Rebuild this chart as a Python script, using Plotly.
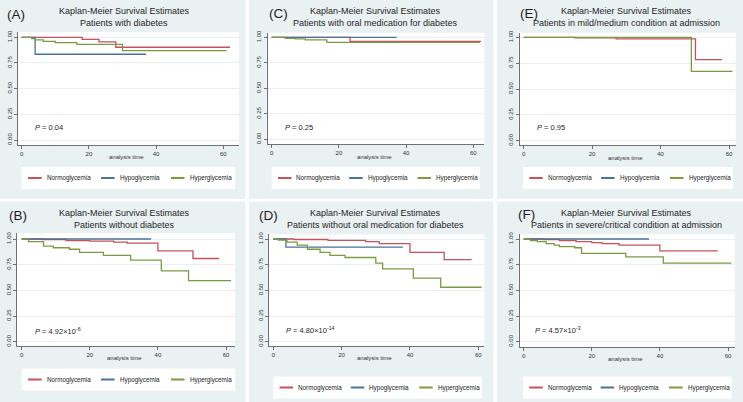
import plotly.graph_objects as go

W, H = 743, 402

# ---------------- data ----------------
groups = ["Normoglycemia", "Hypoglycemia", "Hyperglycemia"]
group_colors = ["#c4515c", "#4b7398", "#7b9b40"]

panel_labels = ["(A)", "(B)", "(C)", "(D)", "(E)", "(F)"]
title_main = "Kaplan-Meier Survival Estimates"
subtitles = [
    "Patients with diabetes",
    "Patients without diabetes",
    "Patients with oral medication for diabetes",
    "Patients without oral medication for diabetes",
    "Patients in mild/medium condition at admission",
    "Patients in severe/critical condition at admission",
]
p_texts = [
    "<i>P</i> = 0.04",
    "<i>P</i> = 4.92×10<sup>-6</sup>",
    "<i>P</i> = 0.25",
    "<i>P</i> = 4.80×10<sup>-14</sup>",
    "<i>P</i> = 0.95",
    "<i>P</i> = 4.57×10<sup>-3</sup>",
]
p_pos_t = [3.4, 3.4, 3.4, 3.0, 3.2, 2.8]
p_pos_s = [0.12, 0.10, 0.115, 0.115, 0.125, 0.115]
x_title = "analysis time"
x_tick_vals = [0, 20, 40, 60]
y_tick_vals = [0, 0.25, 0.5, 0.75, 1.0]
y_tick_text = ["0.00", "0.25", "0.50", "0.75", "1.00"]

# (A) with diabetes
A_normo_t = [0, 18, 23, 28, 62]
A_normo_s = [1.0, 0.98, 0.955, 0.903, 0.903]
A_hypo_t = [0, 4, 37]
A_hypo_s = [1.0, 0.835, 0.835]
A_hyper_t = [0, 3, 4, 6.4, 10, 16.4, 30, 61]
A_hyper_s = [1.0, 0.987, 0.974, 0.961, 0.948, 0.932, 0.87, 0.87]

# (B) without diabetes
B_normo_t = [0, 6, 13, 20, 27, 31, 40, 50.3, 58]
B_normo_s = [1.0, 0.995, 0.985, 0.98, 0.97, 0.96, 0.885, 0.81, 0.81]
B_hypo_t = [0, 38]
B_hypo_s = [1.0, 1.0]
B_hyper_t = [0, 2, 6.4, 9.3, 14, 17, 24, 32, 41, 49, 61.5]
B_hyper_s = [1.0, 0.975, 0.93, 0.915, 0.90, 0.87, 0.84, 0.795, 0.69, 0.595, 0.595]

# (C) with oral medication
C_normo_t = [0, 23.3, 62.3]
C_normo_s = [1.0, 0.96, 0.96]
C_hypo_t = [0, 37.2]
C_hypo_s = [1.0, 1.0]
C_hyper_t = [0, 4, 7, 10, 16.4, 62]
C_hyper_s = [1.0, 0.99, 0.985, 0.975, 0.95, 0.95]

# (D) without oral medication
D_normo_t = [0, 6, 16, 27, 31, 40, 50, 58]
D_normo_s = [1.0, 0.995, 0.987, 0.974, 0.955, 0.87, 0.80, 0.80]
D_hypo_t = [0, 3.7, 37.9]
D_hypo_s = [1.0, 0.92, 0.92]
D_hyper_t = [0, 1.5, 4, 7, 10, 13.7, 16.6, 21, 30, 32, 41, 49, 61]
D_hyper_s = [1.0, 0.99, 0.97, 0.94, 0.90, 0.87, 0.84, 0.82, 0.765, 0.71, 0.62, 0.53, 0.53]

# (E) mild/medium condition
E_normo_t = [0, 15, 27, 50.2, 58]
E_normo_s = [1.0, 0.995, 0.985, 0.785, 0.785]
E_hypo_t = []
E_hypo_s = []
E_hyper_t = [0, 49, 61]
E_hyper_s = [1.0, 0.67, 0.67]

# (F) severe/critical condition
F_normo_t = [0, 5.7, 10.5, 15.4, 20, 23, 28, 40, 57]
F_normo_s = [1.0, 0.995, 0.985, 0.975, 0.965, 0.955, 0.94, 0.885, 0.885]
F_hypo_t = [0, 36.8]
F_hypo_s = [1.0, 1.0]
F_hyper_t = [0, 2, 4, 6.6, 9, 10.5, 15, 17, 30, 41, 61]
F_hyper_s = [1.0, 0.985, 0.975, 0.955, 0.94, 0.925, 0.915, 0.86, 0.825, 0.765, 0.765]

curves = [
    [(A_normo_t, A_normo_s), (A_hypo_t, A_hypo_s), (A_hyper_t, A_hyper_s)],
    [(B_normo_t, B_normo_s), (B_hypo_t, B_hypo_s), (B_hyper_t, B_hyper_s)],
    [(C_normo_t, C_normo_s), (C_hypo_t, C_hypo_s), (C_hyper_t, C_hyper_s)],
    [(D_normo_t, D_normo_s), (D_hypo_t, D_hypo_s), (D_hyper_t, D_hyper_s)],
    [(E_normo_t, E_normo_s), (E_hypo_t, E_hypo_s), (E_hyper_t, E_hyper_s)],
    [(F_normo_t, F_normo_s), (F_hypo_t, F_hypo_s), (F_hyper_t, F_hyper_s)],
]

# ---------------- layout geometry (pixels) ----------------
geom = [
    dict(bg=(0, 0, 245.5, 199), left=18.3, right=239, x0=21.7, x60=223.3,
         top=32, bottom=144.5, y1=37.3, y0=140.0, lab_x=5, lab_y=14.5, tc=124.3,
         leg=(21.7, 235, 178)),
    dict(bg=(0, 201.5, 245.5, 402), left=17.3, right=235, x0=21.7, x60=226,
         top=233.3, bottom=345.7, y1=239, y0=341.7, lab_x=6.5, lab_y=215.5, tc=124.3,
         leg=(21.7, 235, 379.5)),
    dict(bg=(249, 0, 493.5, 199), left=267.7, right=484.3, x0=271.7, x60=473.3,
         top=32.7, bottom=144, y1=37.3, y0=139.3, lab_x=266.5, lab_y=14, tc=375,
         leg=(271.7, 480, 178)),
    dict(bg=(249, 201.5, 493.5, 402), left=269, right=484.3, x0=273.3, x60=478.3,
         top=234.3, bottom=345.7, y1=239, y0=341.7, lab_x=257.3, lab_y=215.5, tc=375,
         leg=(273.3, 481.7, 387.5)),
    dict(bg=(497, 0, 743, 199), left=519.7, right=735.7, x0=523.7, x60=729,
         top=32.7, bottom=145, y1=37.3, y0=140.7, lab_x=518, lab_y=13.5, tc=626,
         leg=(523, 733, 178)),
    dict(bg=(497, 201.5, 743, 402), left=519.7, right=734.7, x0=523.7, x60=728,
         top=234.3, bottom=346.7, y1=239, y0=341.7, lab_x=516.3, lab_y=215, tc=626,
         leg=(523, 731.7, 387.5)),
]

FONT = "Liberation Sans, Arial, sans-serif"
PANEL_BG = "#eaf1f3"
AXIS_COL = "#707070"
TXT = "#1e1e1e"


def px(x):
    return x / W


def py(y):
    return 1 - y / H


fig = go.Figure()
shapes = []
annotations = []
layout_axes = {}

for i, g in enumerate(geom):
    n = i + 1
    xa = "x" if n == 1 else f"x{n}"
    ya = "y" if n == 1 else f"y{n}"

    # panel background
    bx0, by0, bx1, by1 = g["bg"]
    shapes.append(dict(type="rect", xref="paper", yref="paper", layer="below",
                       x0=px(bx0), x1=px(bx1), y0=py(by1), y1=py(by0),
                       fillcolor=PANEL_BG, line=dict(width=0)))
    # white plot region
    shapes.append(dict(type="rect", xref="paper", yref="paper", layer="below",
                       x0=px(g["left"] - 1), x1=px(g["right"]), y0=py(g["bottom"] + 1), y1=py(g["top"]),
                       fillcolor="white", line=dict(width=0)))

    k = (g["x60"] - g["x0"]) / 60.0
    xr = [(g["left"] - g["x0"]) / k, (g["right"] - g["x0"]) / k]
    ky = g["y0"] - g["y1"]
    yr = [(g["y0"] - g["bottom"]) / ky, (g["y0"] - g["top"]) / ky]

    layout_axes["xaxis" if n == 1 else f"xaxis{n}"] = dict(
        domain=[px(g["left"]), px(g["right"])], range=xr, anchor=ya,
        tickvals=x_tick_vals, ticks="outside", ticklen=3, tickcolor=AXIS_COL, tickwidth=1,
        showline=True, linecolor=AXIS_COL, linewidth=1, showgrid=False, zeroline=False,
        tickfont=dict(size=6, color="#333333", family=FONT), automargin=False, fixedrange=True)
    layout_axes["yaxis" if n == 1 else f"yaxis{n}"] = dict(
        domain=[py(g["bottom"]), py(g["top"])], range=yr, anchor=xa,
        tickvals=y_tick_vals, ticktext=y_tick_text, tickangle=-90,
        ticks="outside", ticklen=3, tickcolor=AXIS_COL, tickwidth=1,
        showline=True, linecolor=AXIS_COL, linewidth=1,
        showgrid=True, gridcolor="#e9eff2", gridwidth=1, zeroline=False,
        tickfont=dict(size=6, color="#333333", family=FONT), automargin=False, fixedrange=True)

    for j, (t, s) in enumerate(curves[i]):
        fig.add_trace(go.Scatter(x=t, y=s, mode="lines", line_shape="hv",
                                 line=dict(color=group_colors[j], width=1.3),
                                 name=groups[j], showlegend=False,
                                 xaxis=xa, yaxis=ya, hoverinfo="skip"))

    # titles
    annotations.append(dict(text=panel_labels[i], xref="paper", yref="paper",
                            x=px(g["lab_x"]), y=py(g["lab_y"]), xanchor="left", yanchor="middle",
                            showarrow=False, font=dict(size=13.5, color=TXT, family=FONT)))
    top = g["bg"][1]
    annotations.append(dict(text=title_main, xref="paper", yref="paper",
                            x=px(g["tc"]), y=py(top + 11.5), xanchor="center", yanchor="middle",
                            showarrow=False, font=dict(size=9, color=TXT, family=FONT)))
    annotations.append(dict(text=subtitles[i], xref="paper", yref="paper",
                            x=px(g["tc"]), y=py(top + 23), xanchor="center", yanchor="middle",
                            showarrow=False, font=dict(size=9, color=TXT, family=FONT)))
    # x axis title
    annotations.append(dict(text=x_title, xref="paper", yref="paper",
                            x=px((g["left"] + g["right"]) / 2 - 2), y=py(g["bottom"] + 12.5),
                            xanchor="center", yanchor="middle", showarrow=False,
                            font=dict(size=6, color="#333333", family=FONT)))
    # p value
    annotations.append(dict(text=p_texts[i], xref=xa, yref=ya, x=p_pos_t[i], y=p_pos_s[i],
                            xanchor="left", yanchor="middle", showarrow=False,
                            font=dict(size=7.5, color=TXT, family=FONT)))

    # legend box
    lx0, lx1, lyc = g["leg"]
    shapes.append(dict(type="rect", xref="paper", yref="paper", layer="below",
                       x0=px(lx0), x1=px(lx1), y0=py(lyc + 11), y1=py(lyc - 11),
                       fillcolor="white", line=dict(width=0)))
    for j, f in enumerate([0.03, 0.372, 0.70]):
        sx = lx0 + f * (lx1 - lx0)
        shapes.append(dict(type="line", xref="paper", yref="paper", layer="above",
                           x0=px(sx), x1=px(sx + 13.5), y0=py(lyc), y1=py(lyc),
                           line=dict(color=group_colors[j], width=2)))
        annotations.append(dict(text=groups[j], xref="paper", yref="paper",
                                x=px(sx + 16.5), y=py(lyc), xanchor="left", yanchor="middle",
                                showarrow=False, font=dict(size=6.3, color="#1a1a1a", family=FONT)))

fig.update_layout(
    width=W, height=H, template="none",
    margin=dict(l=0, r=0, t=0, b=0, pad=0),
    paper_bgcolor="white", plot_bgcolor="rgba(0,0,0,0)",
    font=dict(family=FONT, color=TXT),
    shapes=shapes, annotations=annotations, showlegend=False,
    **layout_axes,
)

fig.write_html("out.html",
               config={"displayModeBar": False, "staticPlot": True},
               post_script="document.body.style.margin='0';document.body.style.overflow='hidden';")
